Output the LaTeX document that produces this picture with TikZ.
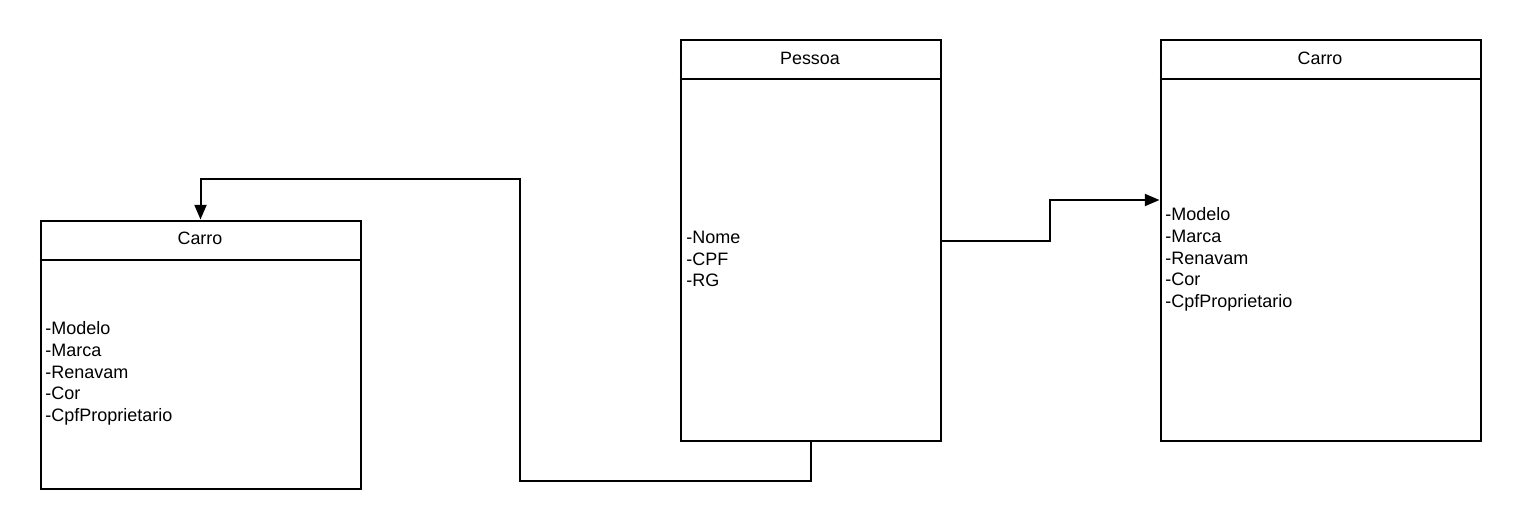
\documentclass[tikz,border=0pt]{standalone}
\usepackage{fontspec}
\setmainfont{Liberation Sans}
\usetikzlibrary{arrows.meta}
\tikzset{
  umlbox/.style={draw=black, line width=1.5pt, fill=white, inner sep=0pt, anchor=north west},
  divider/.style={draw=black, line width=1.5pt},
  title/.style={inner sep=0pt, font=\fontsize{13.4pt}{16pt}\selectfont},
  attrs/.style={inner sep=0pt, anchor=west, align=left, font=\fontsize{13.5pt}{16.35pt}\selectfont},
  conn/.style={draw=black, line width=1.5pt, -{Triangle[length=11pt,width=9pt]}},
}
\begin{document}
\begin{tikzpicture}[x=0.75pt, y=-0.75pt]
\useasboundingbox (0,0) rectangle (1520,528);
\fill[white] (0,0) rectangle (1520,528);
% boxes
\node[umlbox, minimum width=240pt, minimum height=201pt] (carroL) at (39.5,219.5) {};
\node[umlbox, minimum width=195pt, minimum height=300pt] (pessoa) at (679.5,39.5) {};
\node[umlbox, minimum width=240pt, minimum height=300pt] (carroR) at (1159.5,39.5) {};
% dividers
\draw[divider] ([yshift=-30pt]carroL.north west) -- ([yshift=-30pt]carroL.north east);
\draw[divider] ([yshift=-30pt]pessoa.north west) -- ([yshift=-30pt]pessoa.north east);
\draw[divider] ([yshift=-30pt]carroR.north west) -- ([yshift=-30pt]carroR.north east);
% titles
\node[title] (tL) at (200,238.5) {Carro};
\node[title] (tP) at (810,58) {Pessoa};
\node[title] (tR) at (1320,58) {Carro};
% attributes
\node[attrs] (aL) at (45,373.5) {-Modelo\\-Marca\\-Renavam\\-Cor\\-CpfProprietario};
\node[attrs] (aP) at (686,259) {-Nome\\-CPF\\-RG};
\node[attrs] (aR) at (1165,259.5) {-Modelo\\-Marca\\-Renavam\\-Cor\\-CpfProprietario};
% connectors
\coordinate (c1) at (520,481);
\coordinate (c2) at (520,179);
\coordinate (c3) at (1050,200);
\draw[conn] (pessoa.south) |- (c1) -- (c2) -| (carroL.north);
\draw[conn] (pessoa.east) -| (c3) -- (c3 -| carroR.west);
\end{tikzpicture}
\end{document}
